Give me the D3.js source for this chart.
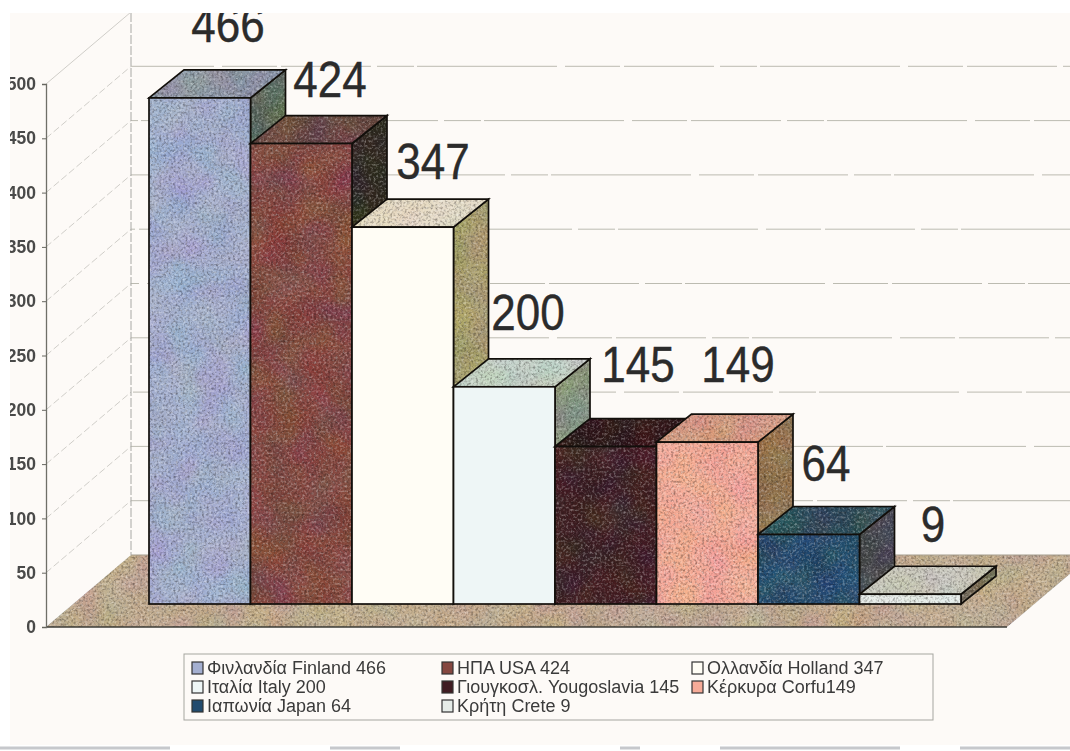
<!DOCTYPE html>
<html>
<head>
<meta charset="utf-8">
<script src="https://cdn.jsdelivr.net/npm/d3@7"></script>
<style>
html,body{margin:0;padding:0;background:#fff;overflow:hidden}
svg{display:block}
text{font-family:"Liberation Sans",Arial,sans-serif}
</style>
</head>
<body>
<svg id="chart" width="1070" height="751"></svg>
<script>
// Visitors by country of origin: a bar chart drawn in oblique 3D.
const categories = ["Finland","USA","Holland","Italy","Yugoslavia","Corfu","Japan","Crete"];
const values = [466,424,347,200,145,149,64,9];
const legendLabels = [
  "Φινλανδία Finland 466","ΗΠΑ USA 424","Ολλανδία Holland 347",
  "Ιταλία Italy 200","Γιουγκοσλ. Yougoslavia 145","Κέρκυρα Corfu149",
  "Ιαπωνία Japan 64","Κρήτη Crete  9"
];
const axisTicks = [0,50,100,150,200,250,300,350,400,450,500];

const frontColors = ["#a4afd0","#85473f","#fffdf5","#eef6f6","#3f1e22","#f6ab98","#234c6e","#e6ece8"];
const topColors   = ["#8c97a6","#6b4541","#e6dcc6","#c4d2c8","#2e1417","#d99c80","#2b4e5a","#c9c8bc"];
const sideColors  = ["#5e6c5e","#2e291e","#aaa16c","#87987f","#2a1416","#94714b","#45474a","#776e5d"];
const smoothFronts = ["Holland","Italy"];

const svg = d3.select("#chart");
const W = 1070, H = 751;

// Oblique projection of the chart's depth axis
const depth = {dx:35, dy:-28};          // bar depth
const wall  = {dx:85, dy:-72};          // floor front edge to back wall

const floorFrontY = 627, barBaseY = 604;
const y = d3.scaleLinear().domain([0,500]).range([0,543]);   // height in pixels
const axisY = v => floorFrontY - y(v);
const x = d3.scaleBand().domain(categories).range([149,961]).padding(0);

// Stippled print texture: faint colour mottling plus soft dark and light specks
const defs = svg.append("defs");
const grain = defs.append("filter").attr("id","grain")
  .attr("x","0").attr("y","0").attr("width","100%").attr("height","100%")
  .attr("color-interpolation-filters","sRGB");
grain.append("feTurbulence").attr("type","fractalNoise").attr("baseFrequency",0.03)
  .attr("numOctaves",2).attr("seed",9).attr("result","low");
grain.append("feColorMatrix").attr("in","low").attr("type","matrix")
  .attr("values","0.35 0 0 0 0.325  0 0.35 0 0 0.325  0 0 0.35 0 0.325  0 0 0 0 1").attr("result","mottle");
grain.append("feBlend").attr("in","mottle").attr("in2","SourceGraphic").attr("mode","soft-light").attr("result","base");
grain.append("feTurbulence").attr("type","fractalNoise").attr("baseFrequency",0.42)
  .attr("numOctaves",2).attr("seed",4).attr("result","fine");
grain.append("feColorMatrix").attr("in","fine").attr("type","matrix")
  .attr("values","0 0 0 0 0.1  0 0 0 0 0.08  0 0 0 0 0.08  1.0 0 0 0 -0.45").attr("result","dark");
grain.append("feColorMatrix").attr("in","fine").attr("type","matrix")
  .attr("values","0 0 0 0 1  0 0 0 0 1  0 0 0 0 1  0 0.9 0 0 -0.42").attr("result","light");
const merged = grain.append("feMerge").attr("result","specks");
merged.append("feMergeNode").attr("in","dark");
merged.append("feMergeNode").attr("in","light");
grain.append("feGaussianBlur").attr("in","specks").attr("stdDeviation",0.45).attr("result","softSpecks");
const all = grain.append("feMerge").attr("result","all");
all.append("feMergeNode").attr("in","base");
all.append("feMergeNode").attr("in","softSpecks");
grain.append("feComposite").attr("in","all").attr("in2","SourceAlpha").attr("operator","in");

// Slight softness for the small lettering
defs.append("filter").attr("id","soft").append("feGaussianBlur").attr("stdDeviation",0.55);

// Paper
svg.append("rect").attr("width",W).attr("height",H).attr("fill","#fff");
svg.append("rect").attr("x",10).attr("y",13).attr("width",W-10).attr("height",732).attr("fill","#fdfaf7");

// Floor
const floorBackY = floorFrontY + wall.dy;
svg.append("polygon")
  .attr("points",[[46,floorFrontY],[1007,floorFrontY],[1007+wall.dx,floorBackY],[46+wall.dx,floorBackY]].join(" "))
  .attr("fill","#c3ad90").attr("filter","url(#grain)");
svg.append("line").attr("x1",46).attr("x2",1007).attr("y1",floorFrontY).attr("y2",floorFrontY)
  .attr("stroke","#3a3a34").attr("stroke-width",1.5);
svg.append("line").attr("x1",131).attr("x2",W).attr("y1",floorBackY).attr("y2",floorBackY)
  .attr("stroke","#a39c8c").attr("stroke-width",1);

// Gridlines on the side wall and the back wall
const grid = svg.append("g").attr("fill","none");
axisTicks.filter(v => v > 0).forEach((v,k) => {
  const a = axisY(v);
  grid.append("line").attr("x1",46).attr("y1",a).attr("x2",46+wall.dx).attr("y2",a+wall.dy)
    .attr("stroke","#d0cec9").attr("stroke-width",1).attr("stroke-dasharray",v===500?null:"7 3");
  grid.append("line").attr("x1",46+wall.dx).attr("y1",a+wall.dy).attr("x2",W).attr("y2",a+wall.dy)
    .attr("stroke","#bcbbb1").attr("stroke-width",1).attr("stroke-dasharray","90 6 37 3 140 8 55 4")
    .attr("stroke-dashoffset",k*67);
});
grid.append("line").attr("x1",131).attr("x2",131).attr("y1",13).attr("y2",floorBackY)
  .attr("stroke","#a8a8a4").attr("stroke-width",1).attr("stroke-dasharray","9 2");

// Value axis at the front of the side wall
const axis = d3.axisLeft(d3.scaleLinear().domain([0,500]).range([floorFrontY,axisY(500)]))
  .tickValues(axisTicks).tickSize(4).tickPadding(6);
const axG = svg.append("g").attr("transform","translate(46,0)").call(axis);
axG.select(".domain").attr("stroke","#6f6f68").attr("stroke-width",1.3);
axG.selectAll(".tick line").attr("stroke","#66665f");
axG.selectAll("text").attr("font-size",17.5).attr("font-weight","bold").attr("fill","#4a4a48")
  .attr("font-family",'"Liberation Sans",Arial,sans-serif').attr("filter","url(#soft)");

// Bars, left to right so each one overlaps its neighbour's side
const outline = "#120f0b";
const bars = svg.append("g").selectAll("g").data(categories.map((c,i)=>({c,v:values[i],i}))).join("g");
bars.each(function(d){
  const g = d3.select(this);
  const x0 = x(d.c), x1 = x0 + x.bandwidth(), yb = barBaseY, yt = barBaseY - y(d.v);
  const {dx,dy} = depth;
  const side = [[x1,yt],[x1+dx,yt+dy],[x1+dx,yb+dy],[x1,yb]].join(" ");
  const top  = [[x0,yt],[x0+dx,yt+dy],[x1+dx,yt+dy],[x1,yt]].join(" ");
  g.append("polygon").attr("points",side).attr("fill",sideColors[d.i]).attr("filter","url(#grain)");
  g.append("polygon").attr("points",side).attr("fill","none").attr("stroke",outline).attr("stroke-width",1.7);
  g.append("polygon").attr("points",top).attr("fill",topColors[d.i]).attr("filter","url(#grain)");
  g.append("polygon").attr("points",top).attr("fill","none").attr("stroke",outline).attr("stroke-width",1.7);
  const front = g.append("rect").attr("x",x0).attr("y",yt).attr("width",x.bandwidth()).attr("height",yb-yt)
    .attr("fill",frontColors[d.i]);
  if (!smoothFronts.includes(d.c)) front.attr("filter","url(#grain)");
  g.append("rect").attr("x",x0).attr("y",yt).attr("width",x.bandwidth()).attr("height",yb-yt)
    .attr("fill","none").attr("stroke",outline).attr("stroke-width",1.7);
});

// Value labels stated above each bar, in a tall narrow face
const labelPos = [[228,42],[330,97],[433,179],[528,330],[638,382],[738,382],[826,481],[933,542]];
svg.append("g").selectAll("text").data(values).join("text")
  .attr("transform",(d,i)=>`translate(${labelPos[i][0]},${labelPos[i][1]}) scale(0.88,1)`)
  .attr("text-anchor","middle").attr("font-size",50).attr("fill","#2b2b2b")
  .attr("stroke","#2b2b2b").attr("stroke-width",0.4)
  .text(d=>d);

// Paper margins cover whatever runs past the scanned area
svg.append("rect").attr("width",W).attr("height",13).attr("fill","#fff");
svg.append("rect").attr("width",10).attr("height",H).attr("fill","#fff");

// Legend
const legend = svg.append("g");
legend.append("rect").attr("x",184).attr("y",654).attr("width",749).attr("height",66)
  .attr("fill","none").attr("stroke","#a5a5a0").attr("stroke-width",1);
const colX = [192,442,692], rowY = [668,687,706];
const legendText = legend.append("g").attr("filter","url(#soft)");
legendLabels.forEach((t,i)=>{
  const cx = colX[i%3], cy = rowY[Math.floor(i/3)];
  legendText.append("rect").attr("x",cx).attr("y",cy-6).attr("width",11).attr("height",12)
    .attr("fill",frontColors[i]).attr("stroke","#333").attr("stroke-width",1.2);
  legendText.append("text").attr("x",cx+15).attr("y",cy+6).attr("font-size",18).attr("fill","#3a3a3a").text(t);
});

// Dark smudges along the lower edge of the sheet
svg.append("g").selectAll("line")
  .data([[0,170],[330,400],[620,640],[720,900],[960,1070]]).join("line")
  .attr("x1",d=>d[0]).attr("x2",d=>d[1]).attr("y1",748).attr("y2",748)
  .attr("stroke","#c6c8cc").attr("stroke-width",3);
</script>
</body>
</html>
